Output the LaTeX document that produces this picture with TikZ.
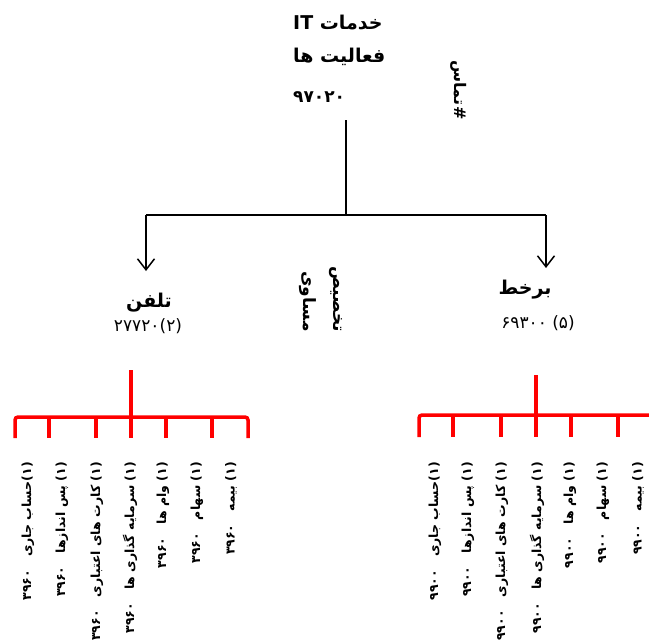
\documentclass[tikz,border=0pt]{standalone}
\usepackage{fontspec}
\usetikzlibrary{arrows.meta}
\TeXXeTstate=1
\newfontfamily\fa[Script=Arabic]{DejaVu Sans}
\tikzset{
  titletxt/.style={font=\fa\bfseries\fontsize{19}{22}\selectfont, inner sep=0pt, anchor=west},
  boldnum/.style={font=\fa\bfseries\fontsize{17}{20}\selectfont, inner sep=0pt},
  plainnum/.style={font=\fa\fontsize{17}{20}\selectfont, inner sep=0pt},
  vlabel/.style={font=\fa\bfseries\fontsize{17}{30}\selectfont, inner sep=0pt, rotate=-90},
  leaf/.style={font=\fa\bfseries\fontsize{12.5}{15}\selectfont, rotate=90, anchor=east, inner sep=0pt},
  blk/.style={line width=1.5pt, draw=black},
  arr/.style={-{Straight Barb[length=11pt,width=17pt]}},
  redl/.style={draw=red, line width=3.5pt, rounded corners=3pt},
}
\newcommand{\lf}[2]{\beginR #1\hspace{13pt}#2\endR}
\begin{document}
\begin{tikzpicture}[x=1pt,y=-1pt]
\useasboundingbox (0,0) rectangle (649,643);
% top node
\node[titletxt] (t1) at (293,23) {\beginR خدمات IT\endR};
\node[titletxt] (t2) at (293,57) {\beginR فعالیت ها\endR};
\node[boldnum, anchor=west] (t3) at (293,97) {\beginR ۹۷۰۲۰\endR};
\node[vlabel, font=\fa\bfseries\fontsize{16}{18}\selectfont] (contact) at (459,90) {\mbox{تماس}\kern1pt\mbox{\#}};
% connectors
\coordinate (top) at (346,120);
\coordinate (jn) at (346,215);
\coordinate (jl) at (146,215);
\coordinate (jr) at (546,215);
\coordinate (al) at (146,271);
\coordinate (ar) at (546,268);
\draw[blk] (top) -- (jn);
\draw[blk] (jl) -- (jr);
\draw[blk,arr] (jl) -- (al);
\draw[blk,arr] (jr) -- (ar);
% second level
\node[titletxt, anchor=center] (phone) at (149,303) {\beginR تلفن\endR};
\node[plainnum] (phonenum) at (148,326) {\beginR (۲)۲۷۷۲۰\endR};
\node[titletxt, anchor=center] (online) at (525,290) {\beginR برخط\endR};
\node[plainnum] (onlinenum) at (538,323) {\beginR (۵) ۶۹۳۰۰\endR};
\node[vlabel, align=right] (alloc) at (321,299) {\beginR تخصیص\endR\\\beginR مساوی\endR};
% left red tree
\coordinate (ls) at (131,370);
\coordinate (lb) at (131,417);
\draw[redl] (ls) -- (lb);
\draw[redl] (15,438) -- (15,417) -- (248,417) -- (248,438);
\foreach \x in {49,96,131,166,212} \draw[redl] (\x,417) -- (\x,438);
% right red tree
\coordinate (rs) at (536,375);
\coordinate (rb) at (536,415);
\draw[redl] (rs) -- (rb);
\draw[redl] (419,437) -- (419,415) -- (670,415);
\foreach \x in {453,501,536,571,618} \draw[redl] (\x,415) -- (\x,437);
% left leaves
\node[leaf] (l1) at (28,462) {\lf{(۱)حساب جاری}{۳۹۶۰}};
\node[leaf] (l2) at (62,462) {\lf{(۱) پس اندازها}{۳۹۶۰}};
\node[leaf] (l3) at (97,462) {\lf{(۱) کارت های اعتباری}{۳۹۶۰}};
\node[leaf] (l4) at (130,462) {\lf{(۱) سرمایه گذاری ها}{۳۹۶۰}};
\node[leaf] (l5) at (163,462) {\lf{(۱) وام ها}{۳۹۶۰}};
\node[leaf] (l6) at (197,462) {\lf{(۱) سهام}{۳۹۶۰}};
\node[leaf] (l7) at (231,462) {\lf{(۱) بیمه}{۳۹۶۰}};
% right leaves
\node[leaf] (r1) at (435,462) {\lf{(۱)حساب جاری}{۹۹۰۰}};
\node[leaf] (r2) at (468,462) {\lf{(۱) پس اندازها}{۹۹۰۰}};
\node[leaf] (r3) at (502,462) {\lf{(۱) کارت های اعتباری}{۹۹۰۰}};
\node[leaf] (r4) at (537,462) {\lf{(۱) سرمایه گذاری ها}{۹۹۰۰}};
\node[leaf] (r5) at (570,462) {\lf{(۱) وام ها}{۹۹۰۰}};
\node[leaf] (r6) at (603,462) {\lf{(۱) سهام}{۹۹۰۰}};
\node[leaf] (r7) at (638,462) {\lf{(۱) بیمه}{۹۹۰۰}};
\end{tikzpicture}
\end{document}
